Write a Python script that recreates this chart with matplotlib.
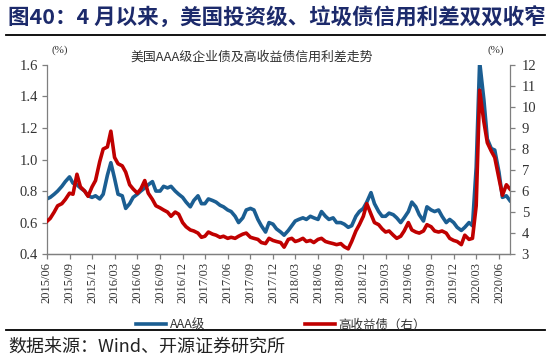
import numpy as np
import pandas as pd
import matplotlib
matplotlib.use("Agg")
import matplotlib.dates as mdates
from matplotlib import pyplot as plt
from matplotlib.lines import Line2D
from matplotlib.ticker import FormatStrFormatter

plt.rcParams["font.family"] = ["Noto Sans CJK SC", "DejaVu Sans"]
plt.rcParams["axes.unicode_minus"] = False

# semi-monthly samples, 2015/06 - 2020/07
dates = pd.date_range("2015-06-01", "2020-07-15", freq="SMS")

# AAA级 spread (%), left axis
aaa = [
    0.75, 0.76, 0.78, 0.80, 0.83, 0.86, 0.89, 0.85, 0.84, 0.82, 0.80, 0.77,
    0.76, 0.77, 0.75, 0.78, 0.90, 0.98, 0.88, 0.78, 0.77, 0.69, 0.72, 0.76,
    0.78, 0.80, 0.82, 0.84, 0.86, 0.80, 0.80, 0.83, 0.82, 0.83, 0.80, 0.78,
    0.76, 0.73, 0.70, 0.74, 0.77, 0.72, 0.72, 0.75, 0.74, 0.73, 0.71, 0.70,
    0.68, 0.67, 0.64, 0.60, 0.63, 0.68, 0.69, 0.68, 0.62, 0.58, 0.54, 0.60,
    0.59, 0.56, 0.54, 0.52, 0.55, 0.58, 0.61, 0.62, 0.63, 0.62, 0.64, 0.63,
    0.62, 0.67, 0.64, 0.62, 0.63, 0.60, 0.60, 0.59, 0.57, 0.58, 0.64, 0.67,
    0.69, 0.73, 0.79, 0.72, 0.67, 0.64, 0.64, 0.66, 0.65, 0.63, 0.60, 0.63,
    0.67, 0.73, 0.70, 0.65, 0.61, 0.70, 0.68, 0.67, 0.68, 0.64, 0.60, 0.62,
    0.60, 0.57, 0.55, 0.57, 0.60, 0.58, 0.95, 1.62, 1.38, 1.13, 1.07, 1.06,
    0.92, 0.76, 0.77, 0.74,
]

# 高收益债 spread (%), right axis
hy = [
    4.55, 4.70, 5.00, 5.30, 5.40, 5.60, 5.90, 5.85, 6.80, 6.20, 6.00, 5.75,
    6.20, 6.50, 7.40, 8.00, 8.10, 8.85, 7.60, 7.30, 7.20, 6.90, 6.30, 6.10,
    5.90, 6.10, 6.50, 5.90, 5.60, 5.30, 5.20, 5.10, 5.00, 4.80, 5.00, 4.90,
    4.50, 4.30, 4.15, 4.10, 4.00, 3.80, 3.85, 4.05, 3.95, 3.90, 3.80, 3.85,
    3.75, 3.80, 3.75, 3.85, 3.95, 4.00, 3.80, 3.75, 3.70, 3.55, 3.50, 3.75,
    3.65, 3.60, 3.55, 3.33, 3.70, 3.75, 3.60, 3.65, 3.75, 3.60, 3.65, 3.55,
    3.70, 3.75, 3.60, 3.55, 3.50, 3.45, 3.50, 3.35, 3.25, 3.60, 4.10, 4.40,
    4.80, 5.40, 4.90, 4.50, 4.40, 4.20, 4.05, 4.10, 3.90, 3.75, 3.85, 4.10,
    4.50, 4.15, 4.05, 4.00, 4.10, 4.40, 4.30, 4.10, 4.05, 4.10, 4.00, 3.75,
    3.65, 3.60, 3.45, 3.90, 3.70, 3.75, 5.30, 10.80, 9.30, 8.30, 7.90, 7.60,
    6.60, 5.80, 6.30, 6.10,
]

left_ticks = [0.4, 0.6, 0.8, 1.0, 1.2, 1.4, 1.6]
right_ticks = list(range(3, 13))

blue = "#1B5E92"
red = "#C00000"
grey = "#7F7F7F"
serif = "Liberation Serif"

fig = plt.figure(figsize=(5.5, 3.63), dpi=100)
ax = fig.add_axes([0.085, 0.300, 0.842, 0.521])
ax2 = ax.twinx()

ax.plot(dates, aaa, color=blue, lw=2.6, label="AAA级")
ax2.plot(dates, hy, color=red, lw=2.6, label="高收益债（右）")

ax.set_xlim(dates[0], dates[-1])
ax.set_ylim(0.4, 1.6)
ax2.set_ylim(3, 12)
ax.set_yticks(left_ticks)
ax2.set_yticks(right_ticks)
ax.yaxis.set_major_formatter(FormatStrFormatter("%.1f"))

ax.xaxis.set_major_locator(mdates.MonthLocator(bymonth=[3, 6, 9, 12]))
ax.xaxis.set_major_formatter(mdates.DateFormatter("%Y/%m"))

for a in (ax, ax2):
    a.spines["top"].set_visible(False)
    for s in a.spines.values():
        s.set_color(grey)
        s.set_linewidth(0.9)
    a.tick_params(direction="out", length=3.5, color=grey, width=0.9,
                  labelcolor="#333333", labelfontfamily=serif)
ax.spines["right"].set_visible(False)
ax2.spines["left"].set_visible(False)
ax.tick_params(axis="y", labelsize=10.5, pad=3)
ax2.tick_params(axis="y", labelsize=10.5, pad=5)
ax.tick_params(axis="x", labelsize=9, labelrotation=90, pad=2)

# headings and notes
fig.text(0.015, 0.95, "图40：4 月以来，美国投资级、垃圾债信用利差双双收窄",
         fontsize=15.5, fontweight="bold", color="#1C2A6B", va="center", ha="left")
fig.add_artist(Line2D([0.01, 0.99], [0.903, 0.903], transform=fig.transFigure,
                      color="black", lw=1.3))
fig.text(0.458, 0.843, "美国AAA级企业债及高收益债信用利差走势", fontsize=9.3,
         color="#333333", ha="center", va="center")
fig.text(0.109, 0.862, "(%)", fontsize=8, family=serif, color="#333333",
         ha="center", va="center")
fig.text(0.902, 0.862, "(%)", fontsize=8, family=serif, color="#333333",
         ha="center", va="center")

h1, l1 = ax.get_legend_handles_labels()
h2, l2 = ax2.get_legend_handles_labels()
fig.legend(h1 + h2, l1 + l2, loc="center", bbox_to_anchor=(0.511, 0.105),
           ncol=2, frameon=False, fontsize=9, handlelength=2.4,
           columnspacing=8.0, handletextpad=0.3, labelcolor="#333333")

fig.add_artist(Line2D([0.01, 0.99], [0.09, 0.09], transform=fig.transFigure,
                      color="black", lw=1.3))
fig.text(0.015, 0.044, "数据来源：Wind、开源证券研究所", fontsize=13,
         color="#222222", ha="left", va="center")

fig.savefig("out.png", dpi=100)
